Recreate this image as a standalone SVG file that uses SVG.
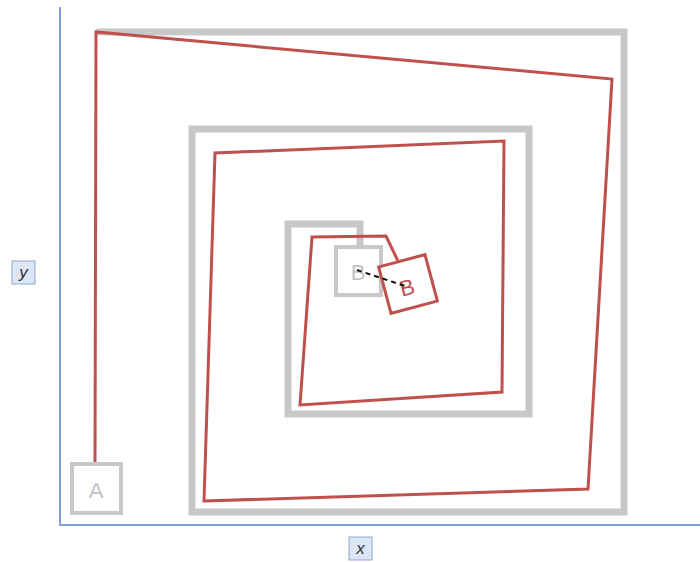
<svg xmlns="http://www.w3.org/2000/svg" width="700" height="562" viewBox="0 0 700 562">
<style>
.axis{stroke:#7f9fd6;stroke-width:2;fill:none}
.lbl{fill:#dce6f4;stroke:#8ea6cc;stroke-width:1}
.lt{font-family:"Liberation Sans",Arial,sans-serif;font-size:17px;font-style:italic;fill:#333;text-anchor:middle}
.gpath{stroke:#c8c8c8;stroke-width:7;fill:none;stroke-linejoin:miter}
.rpath{stroke:#c0504d;stroke-width:3;fill:none;stroke-linejoin:miter}
.gbox{fill:#fff;stroke:#c8c8c8;stroke-width:4}
.rbox{fill:#fff;stroke:#c0504d;stroke-width:3}
.gt{font-family:"Liberation Sans",Arial,sans-serif;font-size:22px;fill:#c4c4c4;text-anchor:middle}
.rt{font-family:"Liberation Sans",Arial,sans-serif;font-size:22px;fill:#c0504d;text-anchor:middle}
</style>
<rect width="700" height="562" fill="#fff"/>
<g id="axes">
<path class="axis" d="M60,7 L60,525 L700,525"/>
<rect class="lbl" x="12" y="261" width="23" height="23"/>
<text class="lt" x="23.5" y="278">y</text>
<rect class="lbl" x="349" y="537" width="23" height="23"/>
<text class="lt" x="360.5" y="554">x</text>
</g>
<g id="connectors">
<path class="gpath" d="M96,32 L624,32 L624,512 L192,512 L192,129 L529,129 L529,414 L288,414 L288,224 L360,224 L360,247"/>
<path class="rpath" d="M95,464 L96,32 L612,79 L588,489 L204,501 L215,153 L504,141 L502,392 L300,405 L312,237 L386,236 L398,261"/>
</g>
<g id="nodeA">
<rect class="gbox" x="72" y="464" width="49" height="49"/>
<text class="gt" x="96" y="498">A</text>
</g>
<g id="nodeBghost">
<rect class="gbox" x="336" y="247" width="45" height="48"/>
<text class="gt" x="358" y="280">B</text>
</g>
<g id="nodeB">
<rect class="rbox" x="384" y="260" width="48" height="48" transform="rotate(-15 408 284)"/>
<text class="rt" x="407" y="295" transform="rotate(-15 407 287)">B</text>
</g>
<g id="offset">
<path d="M357,270 L408,287" stroke="#111" stroke-width="2" stroke-dasharray="5,4" fill="none"/>
</g>
</svg>
